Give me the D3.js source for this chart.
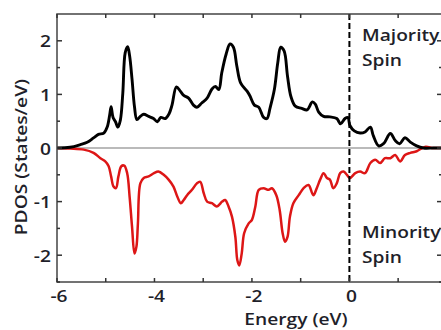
<!DOCTYPE html>
<html>
<head>
<meta charset="utf-8">
<script src="https://cdn.jsdelivr.net/npm/d3@7"></script>
<style>
  body { margin: 0; background: #fff; }
  text { font-family: "Open Sans", sans-serif; font-weight: 600; fill: #1f1f2a; }
</style>
</head>
<body>
<div id="chart"></div>
<script>
// data
var majEnergy = [-6.00, -5.73, -5.52, -5.38, -5.25, -5.15, -5.04, -4.97, -4.92, -4.89, -4.85, -4.80, -4.75, -4.70, -4.65, -4.60, -4.55, -4.51, -4.46, -4.41, -4.36, -4.29, -4.22, -4.12, -4.02, -3.94, -3.87, -3.78, -3.70, -3.64, -3.55, -3.47, -3.40, -3.30, -3.20, -3.13, -3.03, -2.92, -2.82, -2.75, -2.68, -2.62, -2.53, -2.45, -2.38, -2.31, -2.23, -2.10, -2.04, -1.95, -1.86, -1.76, -1.69, -1.63, -1.54, -1.47, -1.41, -1.34, -1.27, -1.20, -1.11, -0.98, -0.87, -0.76, -0.70, -0.63, -0.53, -0.40, -0.26, -0.18, -0.09, -0.03, 0.01, 0.10, 0.22, 0.32, 0.43, 0.49, 0.60, 0.70, 0.84, 0.94, 1.03, 1.14, 1.25, 1.38, 1.52, 1.72, 1.90];
var majDos = [0, 0.013, 0.063, 0.107, 0.189, 0.253, 0.278, 0.391, 0.61, 0.77, 0.57, 0.49, 0.39, 0.52, 1.02, 1.78, 1.89, 1.72, 1.28, 0.77, 0.53, 0.59, 0.63, 0.59, 0.55, 0.49, 0.57, 0.55, 0.64, 0.80, 1.14, 1.06, 0.98, 0.93, 0.80, 0.76, 0.84, 0.93, 1.10, 1.15, 1.09, 1.40, 1.75, 1.94, 1.88, 1.53, 1.21, 1.06, 0.97, 0.80, 0.76, 0.57, 0.55, 0.74, 1.09, 1.59, 1.88, 1.81, 1.34, 0.96, 0.78, 0.74, 0.71, 0.86, 0.82, 0.67, 0.59, 0.58, 0.55, 0.45, 0.55, 0.57, 0.42, 0.32, 0.28, 0.30, 0.39, 0.23, 0.04, 0.08, 0.27, 0.14, 0.08, 0.19, 0.11, 0.04, 0, 0, 0];

var minEnergy = [-6.00, -5.73, -5.45, -5.25, -5.11, -5.01, -4.94, -4.89, -4.84, -4.79, -4.74, -4.68, -4.62, -4.56, -4.51, -4.46, -4.41, -4.37, -4.34, -4.29, -4.22, -4.12, -4.01, -3.92, -3.81, -3.71, -3.61, -3.53, -3.46, -3.40, -3.33, -3.23, -3.13, -3.06, -2.99, -2.92, -2.82, -2.72, -2.61, -2.55, -2.48, -2.41, -2.34, -2.30, -2.26, -2.21, -2.16, -2.07, -2.00, -1.93, -1.86, -1.76, -1.66, -1.59, -1.50, -1.43, -1.37, -1.32, -1.27, -1.22, -1.15, -1.04, -0.94, -0.84, -0.74, -0.67, -0.60, -0.53, -0.46, -0.40, -0.33, -0.26, -0.19, -0.12, -0.05, 0.01, 0.12, 0.22, 0.32, 0.43, 0.53, 0.63, 0.73, 0.84, 0.94, 1.04, 1.14, 1.25, 1.38, 1.55, 1.72, 1.90];
var minDos = [0, -0.01, -0.03, -0.09, -0.19, -0.25, -0.34, -0.53, -0.72, -0.75, -0.53, -0.34, -0.33, -0.47, -0.91, -1.47, -1.97, -1.84, -1.41, -0.66, -0.56, -0.53, -0.47, -0.44, -0.50, -0.59, -0.72, -0.91, -1.03, -0.97, -0.88, -0.78, -0.66, -0.63, -0.84, -1.00, -1.03, -1.09, -1.00, -0.97, -1.09, -1.28, -1.66, -2.09, -2.19, -1.97, -1.59, -1.41, -1.34, -1.09, -0.78, -0.75, -0.78, -0.75, -0.88, -1.16, -1.59, -1.75, -1.66, -1.28, -1.03, -0.88, -0.75, -0.69, -0.88, -0.75, -0.59, -0.47, -0.56, -0.59, -0.75, -0.66, -0.47, -0.44, -0.50, -0.56, -0.47, -0.44, -0.47, -0.28, -0.22, -0.28, -0.19, -0.19, -0.13, -0.25, -0.13, -0.09, -0.06, 0.02, 0, 0];

var xTicks = [-6, -5, -4, -3, -2, -1, 0, 1];
var xTickLabels = ["-6", "", "-4", "", "-2", "", "0", ""];
var yTicks = [-2, -1, 0, 1, 2];
var yMinorTicks = [-2.5, -1.5, -0.5, 0.5, 1.5];
var fermiLevel = 0;

var W = 441, H = 330;
var plotL = 57, plotR = 442, plotT = 14, plotB = 282;
var stretch = 1.2; // the picture's text is wide

var x = d3.scaleLinear().domain([-6, 1.9]).range([plotL, plotR]);
var y = d3.scaleLinear().domain([-2.5, 2.5]).range([plotB, plotT]);

var svg = d3.select("#chart").append("svg")
  .attr("width", W).attr("height", H);

var majData = majEnergy.map(function(e, i) { return [e, majDos[i]]; });
var minData = minEnergy.map(function(e, i) { return [e, minDos[i]]; });

var line = d3.line()
  .x(function(d) { return x(d[0]); })
  .y(function(d) { return y(d[1]); })
  .curve(d3.curveCatmullRom);

// zero line
svg.append("line")
  .attr("x1", plotL).attr("x2", plotR)
  .attr("y1", y(0)).attr("y2", y(0))
  .attr("stroke", "#777").attr("stroke-width", 1.2);

// curves
svg.append("path").datum(minData)
  .attr("d", line).attr("fill", "none")
  .attr("stroke", "#dd1616").attr("stroke-width", 2.5)
  .attr("stroke-linejoin", "round");

svg.append("path").datum(majData)
  .attr("d", line).attr("fill", "none")
  .attr("stroke", "#000").attr("stroke-width", 2.9)
  .attr("stroke-linejoin", "round");

// fermi level
svg.append("line")
  .attr("x1", x(fermiLevel)).attr("x2", x(fermiLevel))
  .attr("y1", plotT).attr("y2", plotB)
  .attr("stroke", "#000").attr("stroke-width", 2)
  .attr("stroke-dasharray", "6,3");

// frame
svg.append("rect")
  .attr("x", plotL).attr("y", plotT)
  .attr("width", plotR - plotL).attr("height", plotB - plotT)
  .attr("fill", "none").attr("stroke", "#444").attr("stroke-width", 1.5);

// ticks (inward)
var ticks = svg.append("g").attr("stroke", "#333").attr("stroke-width", 1.5);
xTicks.forEach(function(t) {
  ticks.append("line").attr("x1", x(t)).attr("x2", x(t)).attr("y1", plotB).attr("y2", plotB - 4);
  ticks.append("line").attr("x1", x(t)).attr("x2", x(t)).attr("y1", plotT).attr("y2", plotT + 4);
});
yTicks.forEach(function(t) {
  ticks.append("line").attr("x1", plotL).attr("x2", plotL + 5).attr("y1", y(t)).attr("y2", y(t));
  ticks.append("line").attr("x1", plotR).attr("x2", plotR - 5).attr("y1", y(t)).attr("y2", y(t));
});
yMinorTicks.forEach(function(t) {
  ticks.append("line").attr("x1", plotL).attr("x2", plotL + 3).attr("y1", y(t)).attr("y2", y(t));
  ticks.append("line").attr("x1", plotR).attr("x2", plotR - 3).attr("y1", y(t)).attr("y2", y(t));
});

function label(tx, ty, str, anchor, rot) {
  return svg.append("text")
    .attr("transform", "translate(" + tx + "," + ty + ")" + (rot ? " rotate(" + rot + ")" : "") + " scale(" + stretch + ",1)")
    .attr("text-anchor", anchor || "start")
    .style("font-size", "16px")
    .text(str);
}

// tick labels
xTicks.forEach(function(t, i) {
  if (xTickLabels[i]) label(x(t) + 2, 302, xTickLabels[i], "middle");
});
yTicks.forEach(function(t) {
  label(51, y(t) + 6.5, String(t), "end");
});

// axis titles
label(296, 325, "Energy (eV)", "middle");
label(27, 157, "PDOS (States/eV)", "middle", -90);

// annotations
label(362, 41, "Majority", "start");
label(362, 66, "Spin", "start");
label(362, 238, "Minority", "start");
label(362, 263, "Spin", "start");
</script>
</body>
</html>
